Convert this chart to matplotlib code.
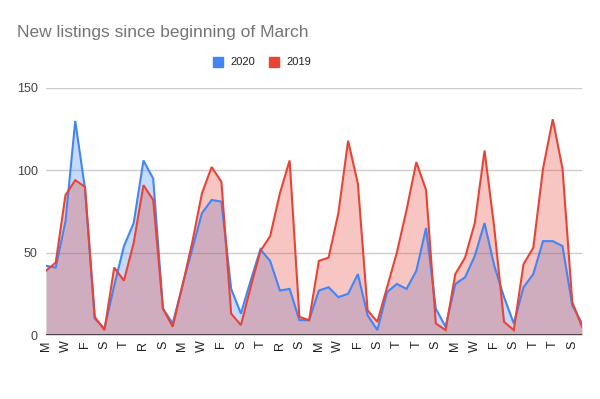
import matplotlib
matplotlib.use("Agg")
import matplotlib.pyplot as plt
import numpy as np

plt.rcParams['font.family'] = ['Liberation Sans', 'DejaVu Sans']

tick_labels = ["M", "W", "F", "S", "T", "R", "S", "M", "W", "F", "S", "T", "R", "S",
               "M", "W", "F", "S", "T", "T", "S", "M", "W", "F", "S", "T", "T", "S"]

series_2020 = [42, 41, 69, 130, 89, 10, 4, 30, 54, 68, 106, 95, 16, 7,
               30, 52, 74, 82, 81, 28, 13, 33, 52, 45, 27, 28, 9, 9,
               27, 29, 23, 25, 37, 12, 3, 26, 31, 28, 39, 65, 16, 5,
               31, 35, 48, 68, 42, 23, 7, 29, 37, 57, 57, 54, 18, 7]

series_2019 = [39, 44, 85, 94, 90, 11, 3, 41, 33, 56, 91, 82, 16, 5,
               30, 56, 86, 102, 93, 13, 6, 29, 51, 60, 86, 106, 11, 9,
               45, 47, 74, 118, 92, 15, 8, 29, 50, 76, 105, 88, 7, 3,
               37, 47, 68, 112, 65, 8, 3, 43, 53, 101, 131, 101, 20, 5]

BLUE = "#4285F4"
RED = "#EA4335"

fig = plt.figure(figsize=(6.0, 3.99), dpi=100)
ax = fig.add_axes([46/600, (399-335)/399, (582-46)/600, (335-88)/399])

x = np.arange(len(series_2020))
ax.fill_between(x, 0, series_2020, color=BLUE, alpha=0.3, linewidth=0, zorder=2)
ax.fill_between(x, 0, series_2019, color=RED, alpha=0.3, linewidth=0, zorder=3)
ax.plot(x, series_2020, color=BLUE, linewidth=1.5, zorder=4, solid_joinstyle='miter')
ax.plot(x, series_2019, color=RED, linewidth=1.5, zorder=5, solid_joinstyle='miter')

ax.set_xlim(0, len(x) - 1)
ax.set_ylim(0, 150)
ax.set_yticks([0, 50, 100, 150])
ax.set_xticks(x[::2])
ax.set_xticklabels(tick_labels, rotation=90, fontsize=9, color="#222222")
ax.tick_params(axis='x', length=0, pad=4)
ax.tick_params(axis='y', length=0, pad=6, labelsize=9, labelcolor="#444444")
for s in ax.spines.values():
    s.set_visible(False)
ax.grid(axis='y', color="#cccccc", linewidth=1.0, zorder=0)
ax.grid(axis='x', visible=False)
ax.axhline(0, color="#333333", linewidth=1.2, zorder=6)
ax.set_facecolor("white")

fig.text(17/600, 1 - 32/399, "New listings since beginning of March",
         fontsize=12.5, color="#757575", ha='left', va='center')

# legend
ly = 1 - 62/399
fig.patches.append(plt.Rectangle((213/600, ly - 5/399), 10/600, 10/399,
                                 transform=fig.transFigure, color=BLUE, figure=fig))
fig.text(230/600, ly, "2020", fontsize=8, color="#222222", ha='left', va='center')
fig.patches.append(plt.Rectangle((269/600, ly - 5/399), 10/600, 10/399,
                                 transform=fig.transFigure, color=RED, figure=fig))
fig.text(286/600, ly, "2019", fontsize=8, color="#222222", ha='left', va='center')

fig.savefig("out.png", dpi=100)
